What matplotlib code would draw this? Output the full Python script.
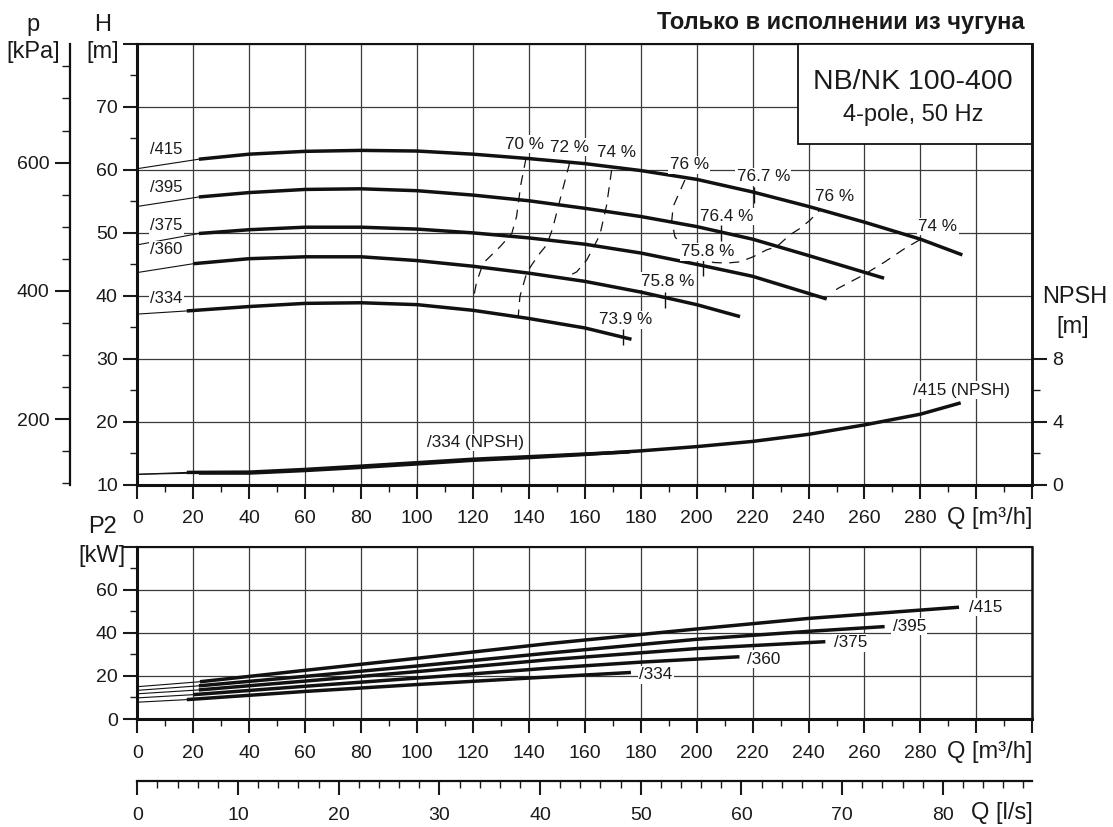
import matplotlib.pyplot as plt
from matplotlib.patches import Rectangle
from matplotlib.ticker import MultipleLocator

plt.rcParams.update({
    'font.family': ['Liberation Sans', 'DejaVu Sans'],
    'font.size': 14,
    'text.color': '#1a1a1a',
    'xtick.color': '#1a1a1a',
    'ytick.color': '#1a1a1a',
    'axes.edgecolor': '#111111',
})

# ---- data ----
# head curves Q [m3/h] / H [m]
q415 = [0, 22, 40, 60, 80, 100, 120, 140, 160, 180, 200, 220, 240, 260, 280, 295]
h415 = [60.2, 61.7, 62.5, 62.95, 63.1, 63.0, 62.5, 61.8, 61.0, 59.9, 58.5, 56.5, 54.2, 51.7, 49.0, 46.5]
q395 = [0, 22, 40, 60, 80, 100, 120, 140, 160, 180, 200, 220, 240, 267]
h395 = [54.2, 55.7, 56.4, 56.9, 57.0, 56.7, 56.0, 55.1, 53.9, 52.6, 51.0, 49.0, 46.4, 42.8]
q375 = [0, 22, 40, 60, 80, 100, 120, 140, 160, 180, 200, 220, 246.5]
h375 = [48.1, 49.9, 50.5, 50.9, 50.9, 50.6, 50.0, 49.2, 48.2, 46.8, 45.0, 43.1, 39.5]
q360 = [0, 20, 40, 60, 80, 100, 120, 140, 160, 180, 200, 215.5]
h360 = [43.7, 45.1, 45.9, 46.2, 46.2, 45.6, 44.7, 43.6, 42.3, 40.6, 38.6, 36.7]
q334 = [0, 17.7, 40, 60, 80, 100, 120, 140, 160, 176.7]
h334 = [37.1, 37.6, 38.3, 38.8, 38.9, 38.6, 37.7, 36.4, 34.9, 33.1]

# NPSH [m]
qn415 = [0, 22, 40, 60, 80, 100, 120, 140, 160, 180, 200, 220, 240, 260, 280, 294.4]
npsh415 = [0.66, 0.74, 0.74, 0.9, 1.1, 1.32, 1.55, 1.72, 1.92, 2.15, 2.42, 2.75, 3.2, 3.8, 4.48, 5.2]
qn334 = [0, 17.7, 40, 60, 80, 100, 120, 140, 160, 176]
npsh334 = [0.66, 0.78, 0.8, 0.97, 1.18, 1.4, 1.62, 1.78, 1.95, 2.08]

# iso-efficiency lines
e70_q = [139, 137.1, 135.6, 133.9, 129.7, 123.7, 121.3, 120.4]
e70_h = [61.9, 57.6, 52.6, 49.9, 47.8, 45.2, 42.2, 40.1]
e72_q = [154.6, 151.1, 148.5, 146.4, 144, 141, 139.2, 136.8, 136.2]
e72_h = [61.15, 55.2, 50.7, 48.1, 46.8, 44.9, 43.6, 39.9, 36.7]
e74_q = [169.6, 167.8, 165.4, 163, 160.7, 157.1, 153.5]
e74_h = [60.0, 54.4, 49.7, 47.6, 45.7, 43.8, 43.0]
e76_q = [195.8, 191.6, 191.1, 192.2, 194.6, 200.1, 205.9, 210.7, 215.5, 220.2, 225, 228.6, 233.4, 236.9, 240.5, 244]
e76_h = [58.4, 54.2, 52.0, 49.4, 48.1, 46.5, 45.3, 45.2, 45.4, 46.2, 47.3, 47.8, 49.7, 50.7, 52.0, 53.6]
e74b_q = [279.8, 274.5, 267.3, 259.6, 250.6, 248.5]
e74b_h = [48.9, 47.55, 45.4, 43.3, 41.2, 40.6]

# best efficiency points
bep_q = [220.6, 208.8, 202.1, 188.8, 173.8]
bep_h = [56.0, 50.0, 44.35, 39.4, 33.5]

# power P2 [kW]
qp415 = [0, 22.4, 60, 100, 147, 200, 240, 293.8]
p415 = [15.0, 17.3, 22.6, 28.2, 35.0, 41.8, 46.7, 51.9]
qp395 = [0, 22, 60, 100, 147, 200, 240, 267.2]
p395 = [13.3, 15.4, 19.8, 24.6, 30.6, 37.0, 40.7, 42.9]
qp375 = [0, 22, 60, 100, 147, 200, 246]
p375 = [11.7, 13.5, 17.6, 22.0, 27.5, 32.7, 35.9]
qp360 = [0, 20, 60, 100, 147, 180, 215.3]
p360 = [9.8, 11.3, 15.2, 19.0, 23.6, 26.4, 28.9]
qp334 = [0, 17.7, 60, 100, 140, 176.5]
p334 = [7.8, 9.0, 12.8, 16.0, 19.0, 21.6]

# ---- layout in pixels ----
W, HH = 1113, 827
def fx(px):
    return px / W
def fy(py):
    return 1 - py / HH

X0, X1 = 137.3, 1032.3
fig = plt.figure(figsize=(W / 100, HH / 100), dpi=100)
ax = fig.add_axes([fx(X0), fy(484.7), fx(X1 - X0), (484.7 - 44) / HH])
axp2 = fig.add_axes([fx(X0), fy(719), fx(X1 - X0), (719 - 546.7) / HH])
ax_p = fig.add_axes([fx(69.7), fy(484.7), 0.0001, (484.7 - 44) / HH])
ax_ls = fig.add_axes([fx(X0), fy(781), fx(X1 - X0), 0.0001])

GRID = dict(color='#3a3a3a', lw=0.9)

def thick_curve(axis, q, v):
    axis.plot(q[:2], v[:2], color='#111111', lw=0.8, zorder=3)
    axis.plot(q[1:], v[1:], color='#111111', lw=2.5, zorder=3,
              solid_joinstyle='round', solid_capstyle='butt')

# ---- head panel ----
ax.set_xlim(0, 320)
ax.set_ylim(10, 80)
ax.xaxis.set_major_locator(MultipleLocator(20))
ax.xaxis.set_minor_locator(MultipleLocator(10))
ax.yaxis.set_major_locator(MultipleLocator(10))
ax.yaxis.set_minor_locator(MultipleLocator(5))
ax.set_xticklabels([str(int(t)) if t <= 280 else '' for t in ax.get_xticks()])
ax.set_yticklabels([str(int(t)) if t < 80 else '' for t in ax.get_yticks()])
ax.tick_params(which='major', length=10, width=1.5, direction='out')
ax.tick_params(which='minor', length=5, width=1.0, direction='out')
ax.tick_params(axis='x', pad=8.5)
ax.tick_params(axis='y', pad=4)
ax.grid(True, which='major', **GRID)
ax.set_axisbelow(True)
for s, w in [('left', 2.2), ('bottom', 2.2), ('top', 1.5), ('right', 1.8)]:
    ax.spines[s].set_linewidth(w)

for q, h in [(q415, h415), (q395, h395), (q375, h375), (q360, h360), (q334, h334)]:
    thick_curve(ax, q, h)

dash = dict(color='#111111', lw=0.9, ls=(0, (8, 6)), zorder=2.5)
for q, h in [(e70_q, e70_h), (e72_q, e72_h), (e74_q, e74_h), (e76_q, e76_h), (e74b_q, e74b_h)]:
    ax.plot(q, h, **dash)
ax.plot(bep_q, bep_h, ls='none', marker='|', ms=12, mew=1.0, color='#111111', zorder=3)

box = dict(fc='white', ec='none', pad=1.0)
for txt, y in [('/415', 63.3), ('/395', 57.2), ('/375', 51.1), ('/360', 47.3), ('/334', 39.6)]:
    ax.text(4.5, y, txt, ha='left', va='center', fontsize=12, bbox=box, zorder=4)

eff_labels = [('70 %', 138.3, 64.1), ('72 %', 154.7, 63.6), ('74 %', 171.5, 62.8),
              ('76 %', 197.4, 60.8), ('76.7 %', 223.8, 58.9), ('76 %', 249.4, 55.75),
              ('76.4 %', 210.7, 52.6), ('75.8 %', 204.1, 47.0), ('75.8 %', 189.8, 42.35),
              ('73.9 %', 174.6, 36.2), ('74 %', 286.2, 51.0)]
for txt, q, h in eff_labels:
    ax.text(q, h, txt, ha='center', va='center', fontsize=12.3, bbox=box, zorder=4)

ax.add_patch(Rectangle((236.1, 64.1), 83.9, 15.9, fc='white', ec='#111111', lw=1.3, zorder=4))
ax.text(277.3, 74.0, 'NB/NK 100-400', ha='center', va='center', fontsize=20.5, zorder=5)
ax.text(277.3, 68.7, '4-pole, 50 Hz', ha='center', va='center', fontsize=17, zorder=5)

# NPSH axis
ax_n = ax.twinx()
ax_n.set_ylim(0, 28)
ax_n.set_yticks([0, 4, 8])
ax_n.set_yticks([2, 6], minor=True)
ax_n.tick_params(which='major', length=10.5, width=1.5, pad=4)
ax_n.tick_params(which='minor', length=5.5, width=1.0)
for s in ['left', 'top', 'bottom']:
    ax_n.spines[s].set_visible(False)
ax_n.spines['right'].set_linewidth(1.8)
thick_curve(ax_n, qn415, npsh415)
thick_curve(ax_n, qn334, npsh334)
ax_n.text(103.5, 2.68, '/334 (NPSH)', ha='left', va='center', fontsize=12.3, bbox=box, zorder=4)
ax_n.text(277.2, 6.0, '/415 (NPSH)', ha='left', va='center', fontsize=12.3, bbox=box, zorder=4)

# pressure axis
ax_p.set_ylim(10 * 9.81, 80 * 9.81)
ax_p.set_xticks([])
ax_p.yaxis.set_major_locator(MultipleLocator(200))
ax_p.yaxis.set_minor_locator(MultipleLocator(50))
ax_p.tick_params(which='major', length=10.8, width=1.5, pad=4)
ax_p.tick_params(which='minor', length=5.8, width=1.0)
ax_p.patch.set_visible(False)
for s in ['right', 'top', 'bottom']:
    ax_p.spines[s].set_visible(False)
ax_p.spines['left'].set_linewidth(1.6)

# ---- power panel ----
axp2.set_xlim(0, 320)
axp2.set_ylim(0, 80)
axp2.xaxis.set_major_locator(MultipleLocator(20))
axp2.xaxis.set_minor_locator(MultipleLocator(10))
axp2.yaxis.set_major_locator(MultipleLocator(20))
axp2.yaxis.set_minor_locator(MultipleLocator(10))
axp2.set_xticklabels([str(int(t)) if t <= 280 else '' for t in axp2.get_xticks()])
axp2.set_yticklabels([str(int(t)) if t < 80 else '' for t in axp2.get_yticks()])
axp2.tick_params(which='major', length=10, width=1.5)
axp2.tick_params(which='minor', length=5, width=1.0)
axp2.tick_params(axis='x', pad=8.5)
axp2.tick_params(axis='y', pad=4)
axp2.grid(True, which='major', **GRID)
axp2.set_axisbelow(True)
for s, w in [('left', 2.2), ('bottom', 2.2), ('top', 1.5), ('right', 1.8)]:
    axp2.spines[s].set_linewidth(w)
for q, p in [(qp415, p415), (qp395, p395), (qp375, p375), (qp360, p360), (qp334, p334)]:
    thick_curve(axp2, q, p)
for txt, q, p in [('/415', 297.3, 51.9), ('/395', 270.1, 42.9), ('/375', 249.0, 35.3),
                  ('/360', 218.1, 27.8), ('/334', 179.4, 20.5)]:
    axp2.text(q, p, txt, ha='left', va='center', fontsize=12.3, bbox=box, zorder=4)

# ---- l/s axis ----
ax_ls.set_xlim(0, 320 / 3.6)
ax_ls.set_yticks([])
ax_ls.xaxis.set_major_locator(MultipleLocator(10))
ax_ls.xaxis.set_minor_locator(MultipleLocator(2))
ax_ls.tick_params(which='major', length=10, width=1.5, pad=8.5)
ax_ls.tick_params(which='minor', length=5, width=1.0)
ax_ls.patch.set_visible(False)
for s in ['left', 'right', 'top']:
    ax_ls.spines[s].set_visible(False)
ax_ls.spines['bottom'].set_linewidth(1.6)

# ---- axis titles ----
big = 17
fig.text(fx(33), fy(25), 'p', ha='center', va='center', fontsize=big)
fig.text(fx(33), fy(52), '[kPa]', ha='center', va='center', fontsize=big)
fig.text(fx(103), fy(25), 'H', ha='center', va='center', fontsize=big)
fig.text(fx(103), fy(52), '[m]', ha='center', va='center', fontsize=big)
fig.text(fx(103), fy(527), 'P2', ha='center', va='center', fontsize=big)
fig.text(fx(102), fy(556), '[kW]', ha='center', va='center', fontsize=big)
fig.text(fx(1075), fy(297), 'NPSH', ha='center', va='center', fontsize=big)
fig.text(fx(1073), fy(327), '[m]', ha='center', va='center', fontsize=big)
fig.text(fx(X1), fy(518), 'Q [m³/h]', ha='right', va='center', fontsize=big)
fig.text(fx(X1), fy(752), 'Q [m³/h]', ha='right', va='center', fontsize=big)
fig.text(fx(X1), fy(813), 'Q [l/s]', ha='right', va='center', fontsize=big)
fig.text(fx(1025), fy(22), 'Только в исполнении из чугуна', ha='right', va='center',
         fontsize=17, fontweight='bold')

fig.savefig('out.png', dpi=100)
